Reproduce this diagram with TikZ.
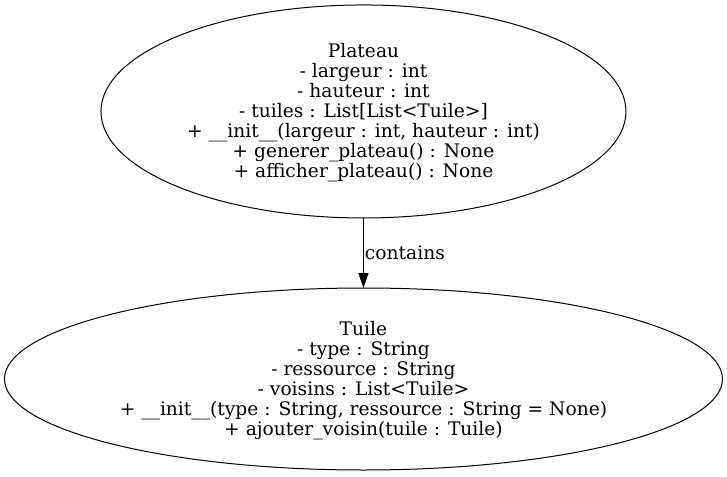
\documentclass[tikz,border=0pt]{standalone}
\usepackage{fontspec}
\setmainfont{DejaVu Serif}
\usetikzlibrary{arrows.meta,shapes.geometric}
\newcommand{\ls}{\rule[-3.5pt]{0pt}{16.3pt}}
\newcommand{\nodefnt}{\fontsize{14pt}{15pt}\selectfont\lineskiplimit=-16000pt\relax}
\tikzset{
  classnode/.style={ellipse, draw, line width=0.75pt, inner sep=0pt, outer sep=0pt, align=center,
    font=\nodefnt},
  edgelabel/.style={inner sep=0pt, font=\fontsize{14pt}{15pt}\selectfont},
  conn/.style={line width=0.75pt, -{Triangle[length=11.25pt,width=7.5pt]}}
}
\begin{document}
\begin{tikzpicture}[x=1pt,y=1pt]
\useasboundingbox (0,0) rectangle (545.25,-357.75);
\node[classnode, minimum width=393.75pt, minimum height=159.75pt] (plateau) at (272.6,-83.6)
 {\ls Plateau\\
  \ls - largeur : int\\
  \ls - hauteur : int\\
  \ls - tuiles : List[List<Tuile>]\\
  \ls + \_\_init\_\_(largeur : int, hauteur : int)\\
  \ls + generer\_plateau() : None\\
  \ls + afficher\_plateau() : None};
\node[classnode, minimum width=538.5pt, minimum height=136.5pt] (tuile) at (272.6,-284.25)
 {\ls Tuile\\
  \ls - type : String\\
  \ls - ressource : String\\
  \ls - voisins : List<Tuile>\\
  \ls + \_\_init\_\_(type : String, ressource : String = None)\\
  \ls + ajouter\_voisin(tuile : Tuile)};
\draw[conn] (plateau) -- (tuile) node[edgelabel, pos=0.5, anchor=west, xshift=0.75pt] (lbl) {contains};
\end{tikzpicture}
\end{document}
